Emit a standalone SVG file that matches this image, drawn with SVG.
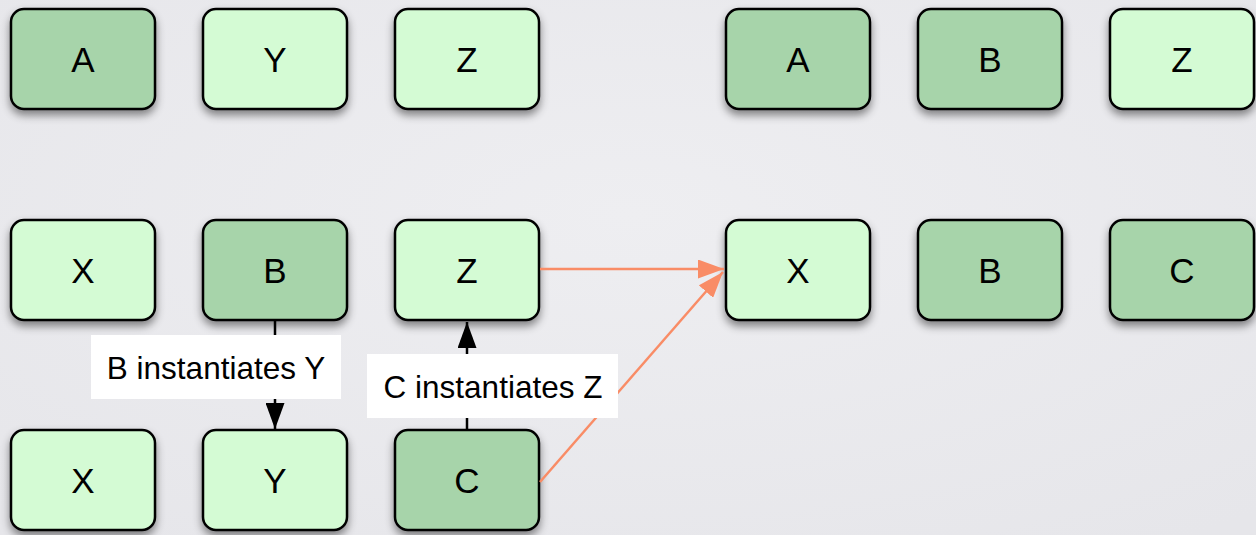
<svg xmlns="http://www.w3.org/2000/svg" width="1256" height="535" viewBox="0 0 1256 535">
<defs>
<radialGradient id="bg" cx="50%" cy="40%" r="75%">
<stop offset="0" stop-color="#eeeef1"/>
<stop offset="1" stop-color="#e6e6ea"/>
</radialGradient>
<filter id="sh" x="-20%" y="-20%" width="140%" height="160%">
<feDropShadow dx="0" dy="5" stdDeviation="4" flood-color="#000" flood-opacity="0.45"/>
</filter>
<marker id="ab" viewBox="0 0 26 19" refX="26" refY="9.5" markerWidth="26" markerHeight="19" markerUnits="userSpaceOnUse" orient="auto">
<path d="M0,0 L26,9.5 L0,19 Z" fill="#000"/>
</marker>
<marker id="ao" viewBox="0 0 26 19" refX="26" refY="9.5" markerWidth="26" markerHeight="19" markerUnits="userSpaceOnUse" orient="auto">
<path d="M0,0 L26,9.5 L0,19 Z" fill="#f98c66"/>
</marker>
<style>
.n rect{stroke:#000;stroke-width:2.5;filter:url(#sh)}
.d rect{fill:#a7d4aa}
.l rect{fill:#d4fbd4}
.n text{font-family:"Liberation Sans",Arial,sans-serif;font-size:35px;fill:#000;text-anchor:middle}
.lbl rect{fill:#fff}
.lbl text{font-family:"Liberation Sans",Arial,sans-serif;font-size:31.5px;fill:#000;text-anchor:middle}
.cb{stroke:#000;stroke-width:2.5;fill:none}
.co{stroke:#f98c66;stroke-width:2.5;fill:none}
</style>
</defs>
<rect width="1256" height="535" fill="url(#bg)"/>

<g id="n-tl-A" class="n d"><rect x="11" y="9" width="144" height="100" rx="13"/><text x="83" y="72">A</text></g>
<g id="n-tl-Y" class="n l"><rect x="203" y="9" width="144" height="100" rx="13"/><text x="275" y="72">Y</text></g>
<g id="n-tl-Z" class="n l"><rect x="395" y="9" width="144" height="100" rx="13"/><text x="467" y="72">Z</text></g>

<g id="n-tr-A" class="n d"><rect x="726" y="9" width="144" height="100" rx="13"/><text x="798" y="72">A</text></g>
<g id="n-tr-B" class="n d"><rect x="918" y="9" width="144" height="100" rx="13"/><text x="990" y="72">B</text></g>
<g id="n-tr-Z" class="n l"><rect x="1110" y="9" width="144" height="100" rx="13"/><text x="1182" y="72">Z</text></g>

<g id="n-ml-X" class="n l"><rect x="11" y="220" width="144" height="100" rx="13"/><text x="83" y="283">X</text></g>
<g id="n-ml-B" class="n d"><rect x="203" y="220" width="144" height="100" rx="13"/><text x="275" y="283">B</text></g>
<g id="n-ml-Z" class="n l"><rect x="395" y="220" width="144" height="100" rx="13"/><text x="467" y="283">Z</text></g>

<g id="n-mr-X" class="n l"><rect x="726" y="220" width="144" height="100" rx="13"/><text x="798" y="283">X</text></g>
<g id="n-mr-B" class="n d"><rect x="918" y="220" width="144" height="100" rx="13"/><text x="990" y="283">B</text></g>
<g id="n-mr-C" class="n d"><rect x="1110" y="220" width="144" height="100" rx="13"/><text x="1182" y="283">C</text></g>

<g id="n-bl-X" class="n l"><rect x="11" y="430" width="144" height="100" rx="13"/><text x="83" y="493">X</text></g>
<g id="n-bl-Y" class="n l"><rect x="203" y="430" width="144" height="100" rx="13"/><text x="275" y="493">Y</text></g>
<g id="n-bl-C" class="n d"><rect x="395" y="430" width="144" height="100" rx="13"/><text x="467" y="493">C</text></g>

<g id="connectors">
<line class="cb" x1="275" y1="321" x2="275" y2="429" marker-end="url(#ab)"/>
<line class="cb" x1="467" y1="429" x2="467" y2="322" marker-end="url(#ab)"/>
<line class="co" x1="540" y1="269" x2="724" y2="269" marker-end="url(#ao)"/>
<line class="co" x1="540" y1="482" x2="723" y2="272" marker-end="url(#ao)"/>
</g>

<g id="label-B" class="lbl"><rect x="91" y="335" width="250" height="64"/><text x="216" y="379">B instantiates Y</text></g>
<g id="label-C" class="lbl"><rect x="367" y="354" width="251" height="64"/><text x="493" y="398">C instantiates Z</text></g>
</svg>
